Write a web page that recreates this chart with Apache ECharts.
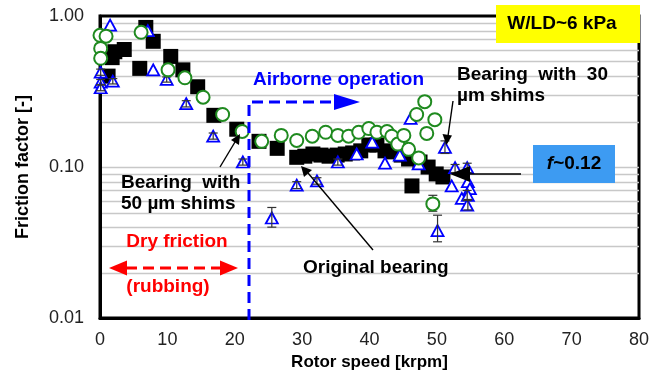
<!DOCTYPE html>
<html>
<head>
<meta charset="utf-8">
<script src="https://cdn.jsdelivr.net/npm/echarts@6/dist/echarts.min.js"></script>
<style>
  html, body { margin: 0; padding: 0; background: #fff; }
  #chart { width: 653px; height: 376px; }
</style>
</head>
<body>
<div id="chart"></div>
<script>
// Original bearing (filled squares)
const speedOriginal = [1.2, 1.8, 2.2, 3.6, 5.9, 6.8, 7.9, 10.5, 12.3, 14.5, 16.9, 20.3, 23.6, 26.3, 29.2,
  30.4, 31.6, 32.8, 34.0, 35.2, 36.4, 37.5, 38.7, 39.9, 41.1, 42.3, 43.5, 44.7, 45.8, 46.3, 47.5, 48.7, 49.9, 50.9];
const frictionOriginal = [0.40, 0.53, 0.58, 0.60, 0.45, 0.84, 0.68, 0.54, 0.44, 0.34, 0.22, 0.178, 0.148, 0.133, 0.116,
  0.118, 0.122, 0.120, 0.118, 0.120, 0.122, 0.124, 0.128, 0.140, 0.140, 0.128, 0.126, 0.120, 0.113, 0.075, 0.108, 0.100, 0.090, 0.086];

// Bearing with 30 um shims (open circles)
const speedShim30 = [0.0, 0.9, 0.1, 0.1, 6.1, 10.1, 12.6, 15.3, 18.2, 21.1, 24.0, 26.9, 29.2, 31.5, 33.5, 35.3,
  36.9, 38.4, 39.9, 41.1, 42.6, 43.3, 44.2, 45.1, 45.8, 47.3, 47.0, 48.2, 48.5, 49.7, 49.4];
const frictionShim30 = [0.745, 0.735, 0.61, 0.525, 0.78, 0.44, 0.39, 0.29, 0.223, 0.172, 0.148, 0.162, 0.150, 0.160, 0.170, 0.162,
  0.160, 0.170, 0.180, 0.170, 0.172, 0.160, 0.142, 0.162, 0.131, 0.115, 0.223, 0.271, 0.167, 0.206, 0.057];

// Bearing with 50 um shims (open triangles)
const speedShim50 = [1.5, 0.1, 0.1, 0.1, 1.9, 7.1, 7.9, 9.9, 12.8, 16.8, 21.2, 25.5, 29.2, 32.2, 35.3, 38.1,
  40.4, 42.3, 44.5, 46.1, 47.3, 51.2, 52.7, 54.5, 52.2, 54.6, 54.9, 53.7, 54.5, 54.6, 50.1];
const frictionShim50 = [0.87, 0.425, 0.365, 0.335, 0.37, 0.80, 0.44, 0.38, 0.263, 0.160, 0.108, 0.046, 0.076, 0.081, 0.108, 0.122,
  0.146, 0.106, 0.120, 0.210, 0.105, 0.135, 0.099, 0.099, 0.075, 0.080, 0.072, 0.062, 0.056, 0.065, 0.038];

// Error bars: [speed, low, high]
const shim50Errors = [
  [0.1, 0.405, 0.445], [0.1, 0.35, 0.38], [0.1, 0.32, 0.35], [1.9, 0.355, 0.385], [9.9, 0.365, 0.395],
  [12.8, 0.25, 0.275], [16.8, 0.153, 0.168], [21.2, 0.103, 0.113], [25.5, 0.040, 0.054],
  [29.2, 0.072, 0.080], [32.2, 0.077, 0.085], [35.3, 0.103, 0.113], [51.2, 0.123, 0.149],
  [52.7, 0.092, 0.104], [54.5, 0.092, 0.106], [54.6, 0.052, 0.061], [54.5, 0.060, 0.070], [50.1, 0.032, 0.048]
];
const shim30Errors = [[49.4, 0.051, 0.065]];

// Log grid lines inside each decade
const gridValues = [0.02, 0.03, 0.04, 0.05, 0.06, 0.07, 0.08, 0.09, 0.1, 0.2, 0.3, 0.4, 0.5, 0.6, 0.7, 0.8, 0.9];
const speedRange = [0, 80];

const pairs = (xs, ys) => xs.map((x, i) => [x, ys[i]]);
const FONT = 'Arial, "Liberation Sans", sans-serif';

function errorRenderer(color) {
  return function (params, api) {
    const x = api.value(0);
    const lo = api.coord([x, api.value(1)]);
    const hi = api.coord([x, api.value(2)]);
    const cap = 4.5;
    const style = { stroke: color, lineWidth: 1.2 };
    return {
      type: 'group',
      children: [
        { type: 'line', shape: { x1: lo[0], y1: lo[1], x2: hi[0], y2: hi[1] }, style },
        { type: 'line', shape: { x1: lo[0] - cap, y1: lo[1], x2: lo[0] + cap, y2: lo[1] }, style },
        { type: 'line', shape: { x1: hi[0] - cap, y1: hi[1], x2: hi[0] + cap, y2: hi[1] }, style }
      ]
    };
  };
}

// horizontal log grid line across the full speed range
function gridRenderer(params, api) {
  const v = api.value(0);
  const a = api.coord([speedRange[0], v]);
  const b = api.coord([speedRange[1], v]);
  return {
    type: 'line',
    shape: { x1: a[0], y1: Math.round(a[1]) + 0.5, x2: b[0], y2: Math.round(b[1]) + 0.5 },
    style: { stroke: '#c8c8c8', lineWidth: 1.3 }
  };
}

const chart = echarts.init(document.getElementById('chart'), null, { renderer: 'canvas' });

const boldText = (x, y, text, color, align) => ({
  type: 'text', x, y, z: 50,
  style: { text, fill: color, font: 'bold 19px ' + FONT, align: align || 'left', verticalAlign: 'middle' }
});

chart.setOption({
  animation: false,
  grid: { left: 100, right: 14, top: 16, bottom: 55, show: true, borderColor: '#000', borderWidth: 3, backgroundColor: 'transparent' },
  xAxis: {
    type: 'value', min: speedRange[0], max: speedRange[1], interval: 10,
    name: 'Rotor speed [krpm]', nameLocation: 'middle', nameGap: 34,
    nameTextStyle: { color: '#000', fontWeight: 'bold', fontSize: 17, fontFamily: FONT },
    axisLine: { show: true, lineStyle: { color: '#000', width: 3 } },
    axisTick: { show: false },
    splitLine: { show: false },
    axisLabel: { color: '#222', fontSize: 18, fontFamily: FONT, margin: 13 }
  },
  yAxis: {
    type: 'log', logBase: 10, min: 0.01, max: 1,
    name: 'Friction factor [-]', nameLocation: 'middle', nameGap: 68, nameRotate: 90,
    nameTextStyle: { color: '#000', fontWeight: 'bold', fontSize: 18, fontFamily: FONT },
    axisLine: { show: true, lineStyle: { color: '#000', width: 3 } },
    axisTick: { show: false },
    splitLine: { show: false },
    axisLabel: { color: '#222', fontSize: 18, fontFamily: FONT, margin: 16, formatter: v => Number(v).toFixed(2) }
  },
  series: [
    {
      type: 'custom', z: 0, silent: true, clip: true,
      renderItem: gridRenderer,
      encode: { y: 0 },
      data: gridValues.map(v => [v])
    },
    {
      name: 'Original bearing', type: 'scatter', z: 2,
      symbol: 'rect', symbolSize: 15,
      itemStyle: { color: '#000', opacity: 1 },
      data: pairs(speedOriginal, frictionOriginal)
    },
    {
      name: 'Bearing with 50 um shims', type: 'scatter', z: 3,
      symbol: 'triangle', symbolSize: [12, 11],
      itemStyle: { color: '#fff', borderColor: '#0000ff', borderWidth: 1.8, opacity: 1 },
      data: pairs(speedShim50, frictionShim50)
    },
    {
      type: 'custom', z: 4, silent: true,
      renderItem: errorRenderer('#333'),
      encode: { x: 0, y: [1, 2] },
      data: shim50Errors
    },
    {
      type: 'custom', z: 4, silent: true,
      renderItem: errorRenderer('#333'),
      encode: { x: 0, y: [1, 2] },
      data: shim30Errors
    },
    {
      name: 'Bearing with 30 um shims', type: 'scatter', z: 5,
      symbol: 'circle', symbolSize: 13,
      itemStyle: { color: '#fff', borderColor: '#1f8a1f', borderWidth: 2, opacity: 1 },
      data: pairs(speedShim30, frictionShim30)
    }
  ],
  graphic: { elements: [
    // load box
    { type: 'rect', z: 40, shape: { x: 496, y: 5, width: 144, height: 38 }, style: { fill: '#ffff00' } },
    boldText(562, 24, 'W/LD~6 kPa', '#000', 'center'),

    // friction level box
    { type: 'rect', z: 40, shape: { x: 533, y: 145, width: 82, height: 38 }, style: { fill: '#3d9bf2' } },
    {
      type: 'text', x: 574, y: 164, z: 50,
      style: {
        text: '{i|f}{n|~0.12}', align: 'center', verticalAlign: 'middle',
        rich: {
          i: { font: 'italic bold 19px ' + FONT, fill: '#000' },
          n: { font: 'bold 19px ' + FONT, fill: '#000' }
        }
      }
    },
    { type: 'line', z: 45, shape: { x1: 521, y1: 174, x2: 466, y2: 174 }, style: { stroke: '#000', lineWidth: 1.6 } },
    { type: 'polygon', z: 45, shape: { points: [[450, 174], [470, 166], [470, 182]] }, style: { fill: '#000' } },

    // 30 um shims label + arrow
    boldText(457, 75, 'Bearing  with  30', '#000'),
    boldText(457, 96, 'µm shims', '#000'),
    { type: 'line', z: 45, shape: { x1: 453, y1: 101, x2: 448, y2: 136 }, style: { stroke: '#000', lineWidth: 1.4 } },
    { type: 'polygon', z: 45, shape: { points: [[446.5, 145], [442.5, 134], [452, 135.5]] }, style: { fill: '#000' } },

    // 50 um shims label + arrow
    boldText(121, 183, 'Bearing  with', '#000'),
    boldText(121, 204, '50 µm shims', '#000'),
    { type: 'line', z: 45, shape: { x1: 220, y1: 167, x2: 235, y2: 142 }, style: { stroke: '#000', lineWidth: 1.4 } },
    { type: 'polygon', z: 45, shape: { points: [[240, 134], [231, 140], [239, 145]] }, style: { fill: '#000' } },

    // original bearing label + arrow
    boldText(303, 268, 'Original bearing', '#000'),
    { type: 'line', z: 45, shape: { x1: 373, y1: 250, x2: 308, y2: 173 }, style: { stroke: '#000', lineWidth: 1.4 } },
    { type: 'polygon', z: 45, shape: { points: [[301, 166], [304, 177], [312, 170]] }, style: { fill: '#000' } },

    // airborne operation marker
    boldText(253, 80, 'Airborne operation', '#0000ff'),
    {
      type: 'polyline', z: 45,
      shape: { points: [[249, 320], [249, 102], [336, 102]] },
      style: { stroke: '#0000ff', lineWidth: 3, lineDash: [11, 6], fill: null }
    },
    { type: 'polygon', z: 45, shape: { points: [[360, 102], [334, 94], [334, 110]] }, style: { fill: '#0000ff' } },

    // dry friction region
    boldText(177, 242, 'Dry friction', '#ff0000', 'center'),
    boldText(168, 287, '(rubbing)', '#ff0000', 'center'),
    {
      type: 'line', z: 45, shape: { x1: 126, y1: 268, x2: 222, y2: 268 },
      style: { stroke: '#ff0000', lineWidth: 3, lineDash: [11, 6] }
    },
    { type: 'polygon', z: 45, shape: { points: [[109, 268], [127, 260.5], [127, 275.5]] }, style: { fill: '#ff0000' } },
    { type: 'polygon', z: 45, shape: { points: [[238, 268], [220, 260.5], [220, 275.5]] }, style: { fill: '#ff0000' } }
  ] }
});
</script>
</body>
</html>
